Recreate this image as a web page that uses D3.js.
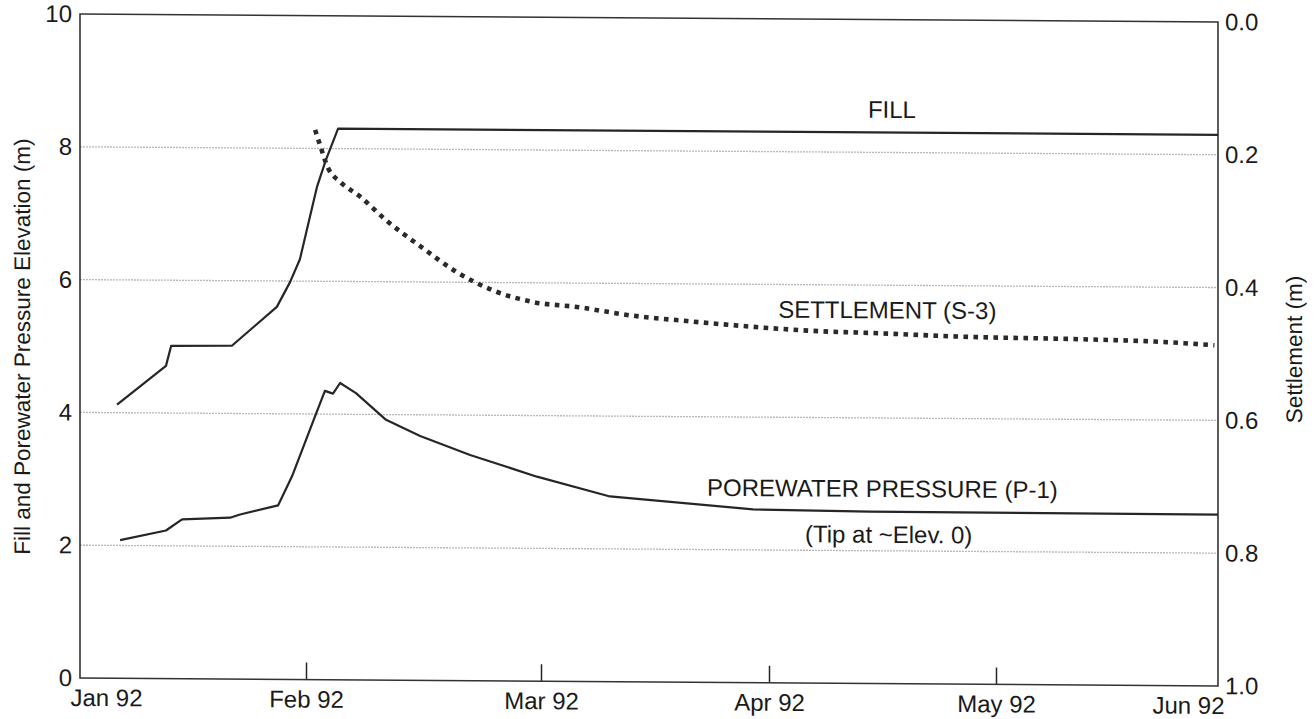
<!DOCTYPE html>
<html>
<head>
<meta charset="utf-8">
<script src="https://cdn.jsdelivr.net/npm/d3@7"></script>
<style>
  html, body { margin: 0; padding: 0; background: #fff; }
  svg { display: block; font-family: "Liberation Sans", Arial, Helvetica, sans-serif; }
</style>
</head>
<body>
<svg id="chart" width="1315" height="719"></svg>
<script>
// ---- axis ticks and labels ----
const monthTicks  = ["1992-01-01", "1992-02-01", "1992-03-01", "1992-04-01", "1992-05-01", "1992-06-01"];
const monthLabels = ["Jan 92", "Feb 92", "Mar 92", "Apr 92", "May 92", "Jun 92"];
const elevTicks   = [0, 2, 4, 6, 8, 10];
const settleTicks = [0, 0.2, 0.4, 0.6, 0.8, 1.0];
const gridLevels  = [2, 4, 6, 8];

// ---- fill elevation (m) ----
const fillDates = ["1992-01-06 02:00", "1992-01-12 19:00", "1992-01-13 12:00", "1992-01-21 20:00",
                   "1992-01-28 00:00", "1992-01-29 19:00", "1992-01-31 04:00", "1992-02-01 12:00",
                   "1992-02-02 09:00", "1992-02-03 11:00", "1992-02-04 23:00", "1992-06-01 00:00"];
const fillElev  = [4.12, 4.71, 5.01, 5.02, 5.61, 5.98, 6.33, 6.98, 7.43, 7.83, 8.30, 8.30];

// ---- porewater pressure elevation, piezometer P-1 (m) ----
const poreDates = ["1992-01-06 12:00", "1992-01-12 19:00", "1992-01-15 00:00", "1992-01-21 14:00",
                   "1992-01-22 23:00", "1992-01-28 04:00", "1992-01-30 02:00", "1992-02-02 03:00",
                   "1992-02-03 08:00", "1992-02-04 08:00", "1992-02-05 05:00", "1992-02-07 04:00",
                   "1992-02-10 21:00", "1992-02-15 02:00", "1992-02-21 06:00", "1992-02-29 12:00",
                   "1992-03-10 09:00", "1992-03-29 20:00", "1992-04-14 08:00", "1992-06-01 00:00"];
const poreElev  = [2.08, 2.23, 2.40, 2.43, 2.48, 2.62, 3.06, 3.97, 4.35, 4.31, 4.47, 4.32,
                   3.92, 3.68, 3.40, 3.08, 2.79, 2.61, 2.59, 2.58];

// ---- settlement plate S-3 (m) ----
const settleDates  = ["1992-02-02 03:00", "1992-02-02 17:00", "1992-02-03 17:00", "1992-02-05 05:00",
                      "1992-02-07 16:00", "1992-02-10 18:00", "1992-02-15 02:00", "1992-02-19 09:00",
                      "1992-02-24 02:00", "1992-02-29 00:00", "1992-03-05 21:00", "1992-03-13 02:00",
                      "1992-03-20 20:00", "1992-03-29 19:00", "1992-04-07 18:00", "1992-04-14 08:00",
                      "1992-04-27 14:00", "1992-05-11 08:00", "1992-05-25 07:00", "1992-05-31 12:00"];
const settleValues = [0.172, 0.194, 0.229, 0.250, 0.272, 0.306, 0.346, 0.383, 0.412, 0.429,
                      0.436, 0.448, 0.456, 0.464, 0.470, 0.472, 0.477, 0.479, 0.483, 0.487];

// ---- drawing ----
const parseLong  = d3.timeParse("%Y-%m-%d %H:%M");
const parseShort = d3.timeParse("%Y-%m-%d");
const parseTime  = s => (s.length > 10 ? parseLong(s) : parseShort(s));

const plot = { left: 80, right: 1218, top: 14, bottom: 678 };
const ink = "#262626";

const months = monthTicks.map(parseTime);
const x = d3.scaleTime()
  .domain(months)
  .range([80, 306, 541, 769, 996, 1218]);
const yL = d3.scaleLinear().domain([0, 10]).range([plot.bottom, plot.top]);
const yR = d3.scaleLinear().domain([0, 1]).range([plot.top, plot.bottom]);

const svg = d3.select("#chart");
// the whole sheet sits with a slight downward slope to the right
const g = svg.append("g")
  .attr("transform", `translate(${plot.left},0) skewY(0.4) translate(${-plot.left},0)`);

// faint horizontal reference lines
g.append("g").selectAll("line")
  .data(gridLevels)
  .join("line")
  .attr("x1", plot.left).attr("x2", plot.right)
  .attr("y1", d => yL(d)).attr("y2", d => yL(d))
  .attr("stroke", "#b8b8b8")
  .attr("stroke-width", 1.3)
  .attr("stroke-dasharray", "2 1");

// left axis
const leftAxis = d3.axisLeft(yL).tickValues(elevTicks).tickSize(0).tickPadding(8)
  .tickFormat(d3.format("d"));
g.append("g")
  .attr("transform", `translate(${plot.left},0)`)
  .call(leftAxis)
  .call(a => a.select(".domain").remove())
  .call(a => a.selectAll("text").attr("font-size", 24).attr("fill", "#1a1a1a").attr("font-family", null));

// right axis
const rightAxis = d3.axisRight(yR).tickValues(settleTicks).tickSize(0).tickPadding(7)
  .tickFormat(d3.format(".1f"));
g.append("g")
  .attr("transform", `translate(${plot.right},0)`)
  .call(rightAxis)
  .call(a => a.select(".domain").remove())
  .call(a => a.selectAll("text").attr("font-size", 24).attr("fill", "#1a1a1a").attr("font-family", null));

// bottom axis: inward ticks on the interior months only
const bottomAxis = d3.axisBottom(x).tickValues(months).tickSize(0).tickPadding(0)
  .tickFormat((d, i) => monthLabels[i]);
const bx = g.append("g")
  .attr("transform", `translate(0,${plot.bottom})`)
  .call(bottomAxis)
  .call(a => a.select(".domain").remove());
bx.selectAll(".tick text")
  .attr("font-size", 24).attr("fill", "#1a1a1a").attr("font-family", null)
  .attr("dy", null).attr("y", 28)
  .attr("text-anchor", (d, i) => i === 0 ? "start" : (i === months.length - 1 ? "end" : "middle"))
  .attr("x", (d, i) => i === 0 ? -10 : (i === months.length - 1 ? 6 : 0));
bx.selectAll(".tick line")
  .attr("y2", (d, i) => (i === 0 || i === months.length - 1) ? 0 : -17)
  .attr("stroke", ink).attr("stroke-width", 1.5);

// plot frame
g.append("rect")
  .attr("x", plot.left).attr("y", plot.top)
  .attr("width", plot.right - plot.left).attr("height", plot.bottom - plot.top)
  .attr("fill", "none").attr("stroke", "#333").attr("stroke-width", 1.6);

// series
const fillData   = fillDates.map((d, i) => [parseTime(d), fillElev[i]]);
const poreData   = poreDates.map((d, i) => [parseTime(d), poreElev[i]]);
const settleData = settleDates.map((d, i) => [parseTime(d), settleValues[i]]);

const lineL = d3.line().x(d => x(d[0])).y(d => yL(d[1]));
const lineR = d3.line().x(d => x(d[0])).y(d => yR(d[1])).curve(d3.curveMonotoneX);

g.append("path").datum(fillData)
  .attr("d", lineL).attr("fill", "none")
  .attr("stroke", ink).attr("stroke-width", 2.2).attr("stroke-linejoin", "round");

g.append("path").datum(poreData)
  .attr("d", lineL).attr("fill", "none")
  .attr("stroke", ink).attr("stroke-width", 2.2).attr("stroke-linejoin", "round");

g.append("path").datum(settleData)
  .attr("d", lineR).attr("fill", "none")
  .attr("stroke", "#2a2a2a").attr("stroke-width", 4.6)
  .attr("stroke-dasharray", "4.6 5.4").attr("stroke-linecap", "butt");

// series labels
const labels = g.append("g").attr("font-size", 24).attr("fill", "#1a1a1a");
labels.append("text").text("FILL")
  .attr("x", x(parseTime("1992-04-20 10:00"))).attr("y", yL(8.52)).attr("text-anchor", "end");
labels.append("text").text("SETTLEMENT (S-3)")
  .attr("x", x(parseTime("1992-04-02 05:00"))).attr("y", yL(5.50));
labels.append("text").text("POREWATER PRESSURE (P-1)")
  .attr("x", x(parseTime("1992-03-23 14:00"))).attr("y", yL(2.81));
labels.append("text").text("(Tip at ~Elev. 0)")
  .attr("x", x(parseTime("1992-04-05 18:00"))).attr("y", yL(2.12));

// axis titles
g.append("text")
  .attr("transform", `translate(22,${(plot.top + plot.bottom) / 2 + 1}) rotate(-90)`)
  .attr("text-anchor", "middle").attr("dy", "0.35em")
  .attr("font-size", 22.5).attr("fill", "#1a1a1a")
  .text("Fill and Porewater Pressure Elevation (m)");
g.append("text")
  .attr("transform", `translate(1294,${(plot.top + plot.bottom) / 2 - 5}) rotate(-90)`)
  .attr("text-anchor", "middle").attr("dy", "0.35em")
  .attr("font-size", 22.5).attr("fill", "#1a1a1a")
  .text("Settlement (m)");
</script>
</body>
</html>
